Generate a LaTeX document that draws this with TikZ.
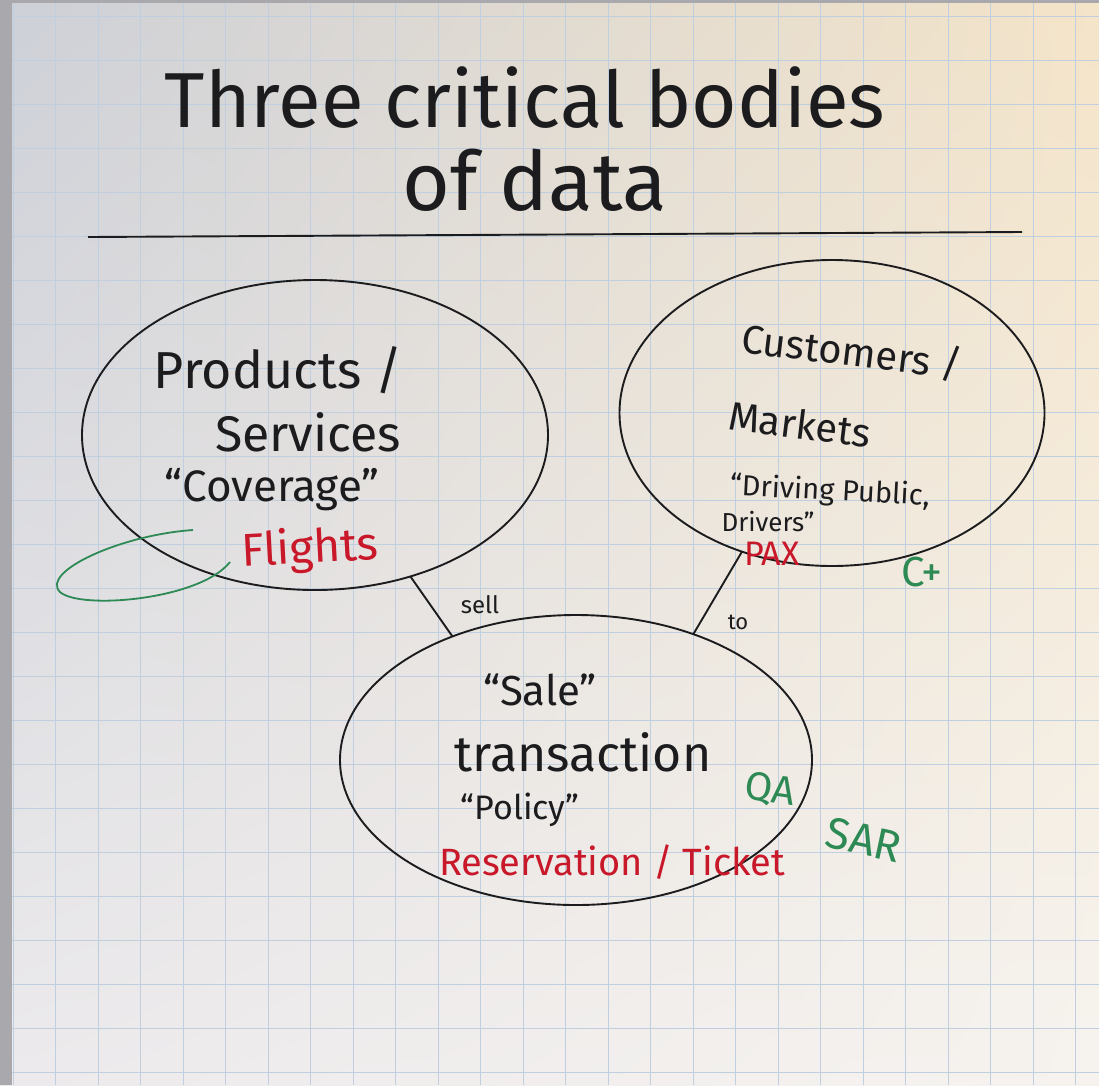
\documentclass[tikz,border=0pt]{standalone}
\usepackage{fontspec}
\setmainfont{Fira Sans}
\usetikzlibrary{shapes.geometric,shadings}
\definecolor{ink}{HTML}{1C1C1E}
\definecolor{redink}{HTML}{C8182A}
\definecolor{greenink}{HTML}{2E8A55}
\definecolor{gridc}{HTML}{BFCFE0}
\definecolor{edgec}{HTML}{A9A8AD}
\definecolor{pUL}{RGB}{205,208,216}
\definecolor{pUR}{RGB}{244,228,200}
\definecolor{pLL}{RGB}{236,234,236}
\definecolor{pLR}{RGB}{246,243,239}
\begin{document}
\begin{tikzpicture}[x=1pt,y=-1pt,
  blob/.style={ellipse, draw=ink, line width=1.9pt, inner sep=0pt, outer sep=0pt},
  txt/.style={inner sep=0pt, text=ink, font=\fontsize{#1}{#1}\selectfont},
  conn/.style={draw=ink, line width=1.9pt},
  gridline/.style={draw=gridc, line width=0.8pt}]
\useasboundingbox (0,0) rectangle (1099,1085);
% paper
\shade[upper left=pUL, upper right=pUR, lower left=pLL, lower right=pLR]
  (0,0) rectangle (1099,1085);
\foreach \gx in {13,55.5,...,1099} \draw[gridline] (\gx,3) -- (\gx,1085);
\foreach \gy in {16,60,...,1085} \draw[gridline] (12,\gy) -- (1099,\gy);
\fill[edgec] (0,0) rectangle (12,1085);
\fill[edgec] (0,0) rectangle (1099,3);
% title
\node[txt=78] (title1) at (525,98) {Three critical bodies};
\node[txt=82] (title2) at (535,180) {of data};
\coordinate (hl) at (88,237);
\coordinate (hr) at (1022,232);
\draw[conn] (hl) -- (hr);
% bodies
\node[blob, minimum width=466, minimum height=310] (prod) at (315,435) {};
\node[blob, minimum width=425, minimum height=306] (cust) at (832,413) {};
\node[blob, minimum width=472, minimum height=290] (sale) at (576,760) {};
% connectors
\draw[conn] (prod.-56) -- (sale.135);
\draw[conn] (cust.-123) -- (sale.47);
\node[txt=24] (l1) at (480,605) {sell};
\node[txt=22] (l2) at (738,622) {to};
% products
\node[txt=52] (p1) at (278,370) {Products /};
\node[txt=50] (p2) at (308,432) {Services};
\node[txt=44] (p3) at (272,490) {“Coverage”};
\node[txt=46, text=redink, rotate=3] (p4) at (310,550) {Flights};
\draw[greenink, line width=1.8pt] (193,530) .. controls (120,535) and (40,572) .. (60,592)
  .. controls (80,610) and (200,600) .. (230,562);
% customers
\node[txt=40, rotate=-7] (c1) at (852,352) {Customers /};
\node[txt=40, rotate=-7] (c2) at (800,424) {Markets};
\node[txt=29, rotate=-3] (c3) at (830,492) {“Driving Public,};
\node[txt=26] (c4) at (768,522) {Drivers”};
\node[txt=34, text=redink] (c5) at (772,554) {PAX};
\node[txt=42, text=greenink] (c6) at (922,572) {C+};
% sale
\node[txt=42] (s1) at (540,690) {“Sale”};
\node[txt=50] (s2) at (583,752) {transaction};
\node[txt=34] (s3) at (520,810) {“Policy”};
\node[txt=38, text=redink] (s4) at (612,862) {Reservation / Ticket};
\node[txt=40, text=greenink, rotate=-8] (s5) at (770,790) {QA};
\node[txt=44, text=greenink, rotate=-12] (s6) at (864,840) {SAR};
\end{tikzpicture}
\end{document}
